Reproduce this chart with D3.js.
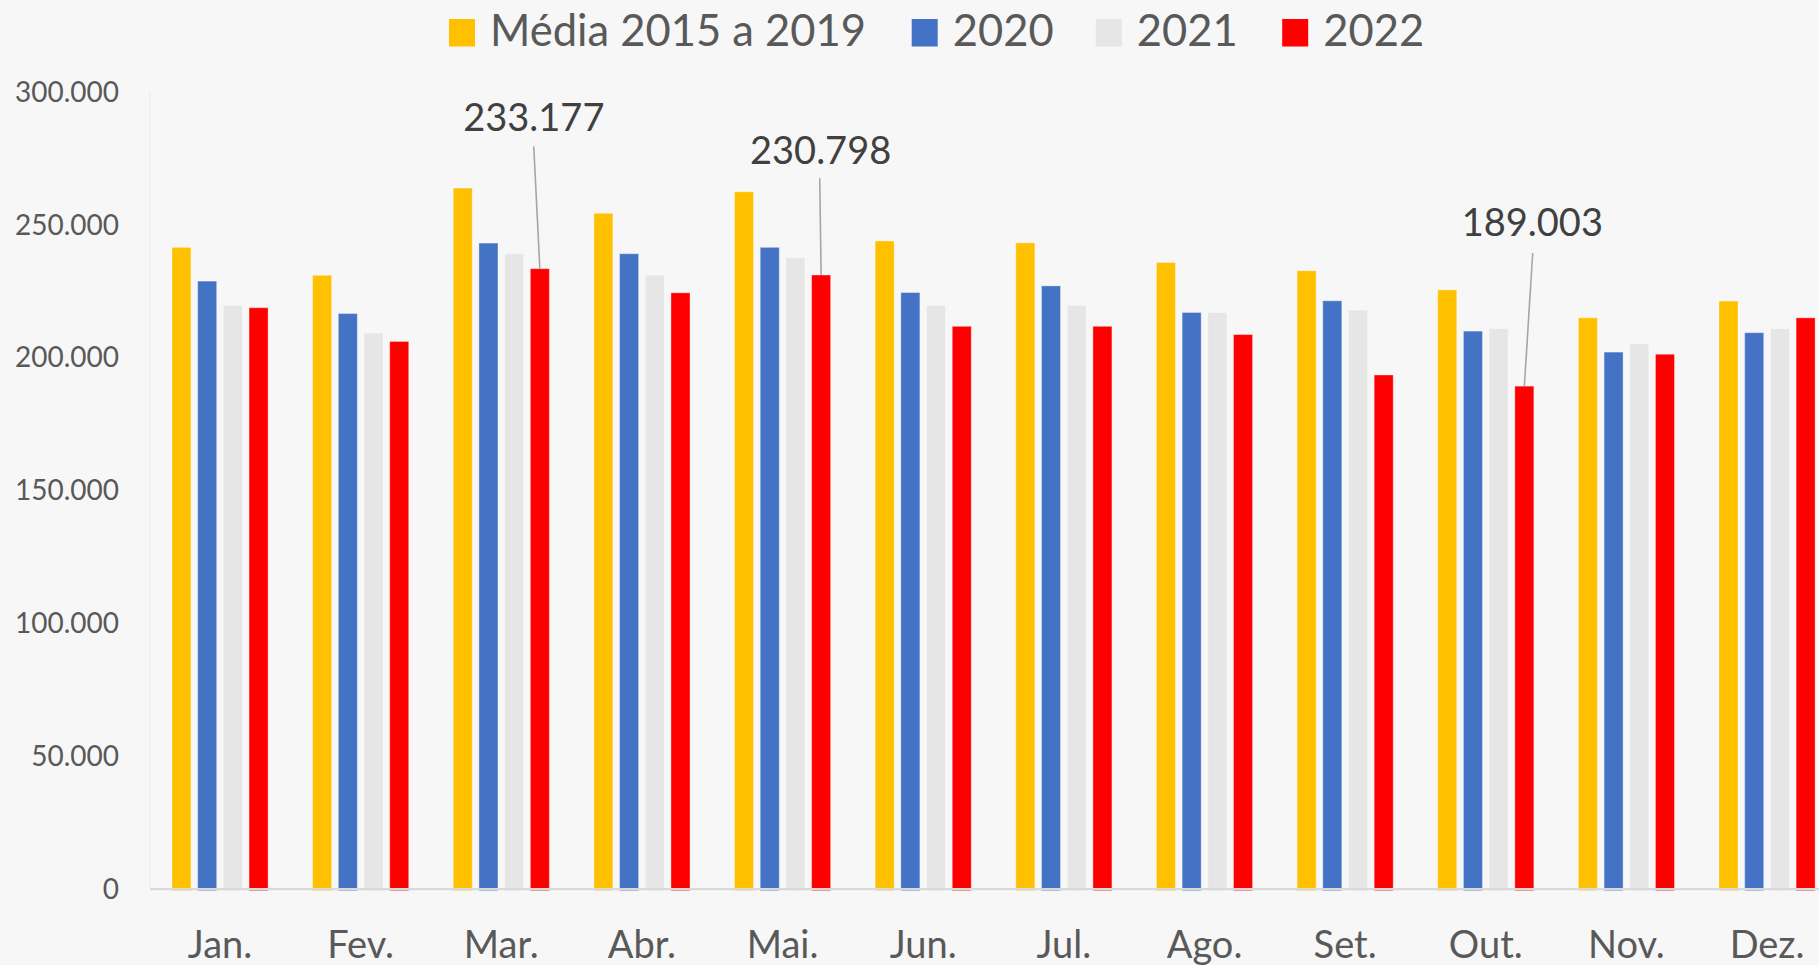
<!DOCTYPE html>
<html>
<head>
<meta charset="utf-8">
<script src="https://cdn.jsdelivr.net/npm/d3@7"></script>
<style>
  html, body { margin: 0; padding: 0; background: #f7f7f7; overflow: hidden; }
  svg { display: block; }
  text { font-family: Lato, "Open Sans", sans-serif; }
</style>
</head>
<body>
<svg id="chart" width="1819" height="965"></svg>
<script>
// ---- data ----
const months = ["Jan.", "Fev.", "Mar.", "Abr.", "Mai.", "Jun.", "Jul.", "Ago.", "Set.", "Out.", "Nov.", "Dez."];
const seriesNames = ["Média 2015 a 2019", "2020", "2021", "2022"];
const media2015a2019 = [241200, 230700, 263500, 254000, 262100, 243600, 242900, 235500, 232400, 225200, 214700, 221000];
const values2020 = [228500, 216300, 242800, 238800, 241200, 224200, 226700, 216700, 221100, 209700, 201800, 209100];
const values2021 = [219400, 208900, 238800, 230700, 237300, 219400, 219400, 216700, 217600, 210600, 205000, 210600];
const values2022 = [218500, 205800, 233177, 224100, 230798, 211500, 211500, 208400, 193200, 189003, 201000, 214700];
const yTicks = [0, 50000, 100000, 150000, 200000, 250000, 300000];
const annotatedMonths = ["Mar.", "Mai.", "Out."];

// ---- styles / layout ----
const colors = ["#FFC000", "#4472C4", "#E7E6E6", "#FF0000"];
const legendX = [449, 911.7, 1095.8, 1282.2];
const annotLayout = { "Mar.": { dx: -6, rise: 137.3, x0: -6.1, y0: 15 },
                      "Mai.": { dx: -0.5, rise: 110.7, x0: -1.4, y0: 14 },
                      "Out.": { dx: 8, rise: 149.7, x0: 8.4, y0: 16.6 } };

const allSeries = [media2015a2019, values2020, values2021, values2022];
const data = months.map((m, i) => ({ month: m, vals: seriesNames.map((s, j) => ({ key: s, value: allSeries[j][i] })) }));

const svg = d3.select("#chart");
const fmt = d3.formatLocale({ decimal: ",", thousands: ".", grouping: [3], currency: ["R$", ""] }).format(",");

const left = 149.7, bandW = 140.64;
const x0 = d3.scaleBand().domain(months).range([left, left + months.length * bandW]).padding(0);
const x1 = d3.scaleBand().domain(seriesNames).range([-51.4, 51.4]).paddingInner(0.26).paddingOuter(0.13);
const y = d3.scaleLinear().domain([0, 300000]).range([888.7, 91]);
const color = d3.scaleOrdinal().domain(seriesNames).range(colors);

// vertical axis line
svg.append("line").attr("x1", left).attr("x2", left).attr("y1", y(300000)).attr("y2", y(0))
  .attr("stroke", "#ececec").attr("stroke-width", 1.2);

// y axis labels
const yAxis = d3.axisLeft(y).tickValues(yTicks).tickFormat(d => fmt(d)).tickSize(0).tickPadding(0);
const yg = svg.append("g").attr("transform", "translate(119,0)").call(yAxis);
yg.select(".domain").remove();
yg.selectAll("text").attr("fill", "#595959").style("font-size", "28px").attr("dy", "0.36em");

// bars
const groups = svg.append("g").selectAll("g").data(data).join("g")
  .attr("transform", d => `translate(${x0(d.month) + x0.bandwidth() / 2},0)`);
groups.selectAll("rect").data(d => d.vals).join("rect")
  .attr("x", d => x1(d.key))
  .attr("width", x1.bandwidth())
  .attr("y", d => y(d.value))
  .attr("height", d => y(0) - y(d.value) + 2)
  .attr("fill", d => color(d.key))
  .attr("stroke", "rgba(255,255,255,0.35)").attr("stroke-width", 1);

// x axis
const xAxis = d3.axisBottom(x0).tickSize(0).tickPadding(0);
const xg = svg.append("g").attr("transform", `translate(0,${y(0)})`).call(xAxis);
xg.select(".domain").attr("stroke", "#d9d9d9").attr("stroke-width", 2.2);
xg.selectAll("text").attr("fill", "#595959").style("font-size", "38px").attr("dy", null).attr("y", 69.5);

// annotations
const ann = svg.append("g");
annotatedMonths.forEach(m => {
  const i = months.indexOf(m);
  const v = values2022[i];
  const L = annotLayout[m];
  const cx = x0(m) + x0.bandwidth() / 2 + x1("2022") + x1.bandwidth() / 2;
  const top = y(v);
  const base = top - L.rise;
  ann.append("line").attr("x1", cx + L.x0).attr("y1", base + L.y0).attr("x2", cx).attr("y2", top)
    .attr("stroke", "#a6a6a6").attr("stroke-width", 1.6);
  ann.append("text").attr("x", cx + L.dx).attr("y", base).attr("text-anchor", "middle")
    .attr("fill", "#404040").style("font-size", "38px").text(fmt(v));
});

// legend
const leg = svg.append("g");
seriesNames.forEach((s, j) => {
  const g = leg.append("g").attr("transform", `translate(${legendX[j]},0)`);
  g.append("rect").attr("x", 0).attr("y", 19).attr("width", 26).attr("height", 27.5).attr("fill", colors[j]);
  g.append("text").attr("x", 41).attr("y", 45.7).attr("fill", "#595959").style("font-size", "43.5px").text(s);
});
</script>
</body>
</html>
